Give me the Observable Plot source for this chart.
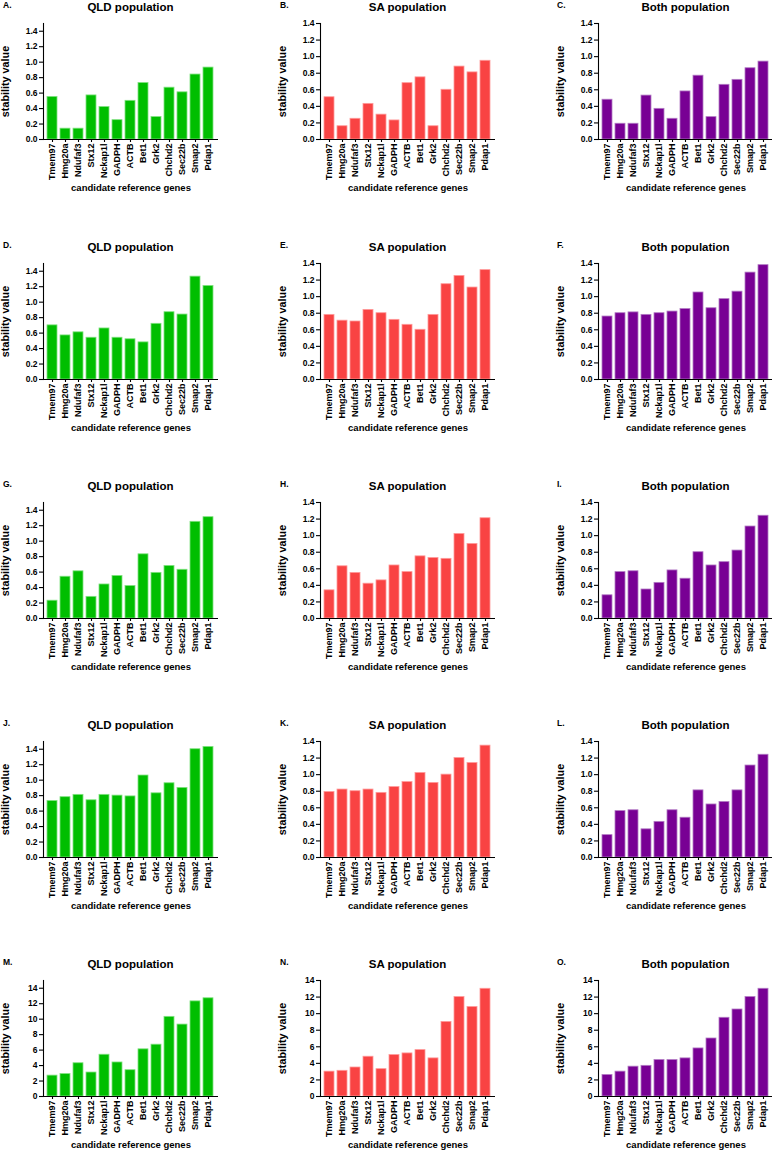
<!DOCTYPE html>
<html><head><meta charset="utf-8">
<script src="https://cdn.jsdelivr.net/npm/d3@7"></script>
<script src="https://cdn.jsdelivr.net/npm/@observablehq/plot@0.6"></script>
<style>
body{margin:0;background:#fff;overflow:hidden;}
#fig{position:relative;width:772px;height:1150px;overflow:hidden;font-family:"Liberation Sans",Arial,sans-serif;font-weight:bold;color:#000;}
.panel{position:absolute;width:260px;height:205px;}
.panel svg{max-width:none !important;}
.title{position:absolute;font-size:11.5px;line-height:12px;font-weight:bold;white-space:nowrap;transform:translateX(-50%);}
.letter{position:absolute;font-size:8.5px;line-height:9px;font-weight:bold;}
svg g[aria-label="y-axis label"] text{font-size:10.8px;}
svg g[aria-label="x-axis label"] text{font-size:9.5px;}
svg g[aria-label="x-axis tick label"] text{font-size:9px;}
svg g[aria-label="y-axis tick label"] text{font-size:8.5px;}
</style></head><body><div id="fig"></div>
<script>
const genes = ["Tmem97","Hmg20a","Ndufaf3","Stx12","Nckap1l","GADPH","ACTB","Bet1","Grk2","Chchd2","Sec22b","Smap2","Pdap1"];
const letters = ["A.","B.","C.","D.","E.","F.","G.","H.","I.","J.","K.","L.","M.","N.","O."];
const populations = ["QLD population","SA population","Both population"];
const ticksSmall = [0,0.2,0.4,0.6,0.8,1.0,1.2,1.4];
const ticksLarge = [0,2,4,6,8,10,12,14];

const valuesA = [0.55,0.14,0.14,0.57,0.42,0.25,0.50,0.73,0.29,0.67,0.61,0.84,0.93];
const valuesB = [0.51,0.16,0.25,0.43,0.30,0.23,0.68,0.75,0.16,0.60,0.88,0.81,0.95];
const valuesC = [0.48,0.19,0.19,0.53,0.37,0.25,0.58,0.77,0.27,0.66,0.72,0.86,0.94];
const valuesD = [0.70,0.57,0.61,0.54,0.66,0.54,0.52,0.48,0.72,0.87,0.84,1.33,1.21];
const valuesE = [0.78,0.71,0.70,0.84,0.80,0.72,0.66,0.60,0.78,1.15,1.25,1.11,1.32];
const valuesF = [0.76,0.80,0.81,0.78,0.80,0.82,0.85,1.05,0.86,0.97,1.06,1.29,1.38];
const valuesG = [0.23,0.54,0.61,0.28,0.44,0.55,0.42,0.83,0.59,0.68,0.63,1.25,1.31];
const valuesH = [0.34,0.63,0.55,0.42,0.46,0.64,0.56,0.75,0.73,0.72,1.02,0.90,1.21];
const valuesI = [0.28,0.56,0.57,0.35,0.43,0.58,0.48,0.80,0.64,0.68,0.82,1.11,1.24];
const valuesJ = [0.73,0.78,0.81,0.74,0.81,0.80,0.79,1.06,0.83,0.96,0.90,1.40,1.43];
const valuesK = [0.79,0.82,0.80,0.82,0.78,0.85,0.91,1.02,0.90,1.00,1.20,1.14,1.35];
const valuesL = [0.27,0.56,0.57,0.34,0.43,0.57,0.48,0.81,0.64,0.67,0.81,1.11,1.24];
const valuesM = [2.7,2.9,4.3,3.1,5.4,4.4,3.4,6.1,6.7,10.3,9.3,12.3,12.7];
const valuesN = [3.0,3.1,3.5,4.8,3.3,5.0,5.2,5.6,4.6,9.0,12.0,10.8,13.0];
const valuesO = [2.6,3.0,3.6,3.7,4.4,4.4,4.6,5.8,7.0,9.5,10.5,12.0,13.0];

const panelValues = [valuesA,valuesB,valuesC,valuesD,valuesE,valuesF,valuesG,valuesH,valuesI,valuesJ,valuesK,valuesL,valuesM,valuesN,valuesO];
const fills = ["#00BE00","#F94343","#780094"];
const strokes = ["#7FE27F","#FF9A9A","#B27AC4"];

const fig = document.getElementById("fig");
const frameLefts = [43, 320, 598];
const frameTops = [23, 263, 502, 741, 980];
const letterLefts = [3, 280, 557];
const W = 260, H = 205, mL = 60, mR = 25, mT = 30, mB = 59;
const frameW = W - mL - mR;

panelValues.forEach((vals, k) => {
  const row = Math.floor(k / 3), col = k % 3;
  const large = row === 4;
  const yMax = large ? (col === 0 ? 15 : 14) : (col === 0 ? 1.5 : 1.4);
  const data = genes.map((g, i) => ({gene: g, value: vals[i]}));
  const chart = Plot.plot({
    width: W, height: H,
    marginLeft: mL, marginRight: mR, marginTop: mT, marginBottom: mB,
    style: {fontFamily: "'Liberation Sans', Arial, sans-serif", fontWeight: "bold", fontSize: "8.5px", color: "#000", background: "transparent", overflow: "visible", maxWidth: "none"},
    x: {domain: genes, paddingInner: 0.2, paddingOuter: 0.28},
    y: {domain: [0, yMax]},
    marks: [
      Plot.barY(data, {x: "gene", y: "value", fill: fills[col], stroke: strokes[col], strokeWidth: 0.8}),
      Plot.frame({anchor: "left", stroke: "#000", strokeWidth: 1.1}),
      Plot.ruleY([0], {stroke: "#000", strokeWidth: 1.1}),
      Plot.axisY({ticks: large ? ticksLarge : ticksSmall, tickFormat: large ? d3.format("d") : d3.format(".1f"), tickSize: 4, tickPadding: 2, strokeWidth: 1.1,
        label: "stability value", labelAnchor: "center", labelArrow: "none", labelOffset: 42}),
      Plot.axisX({tickRotate: -90, tickSize: 3, tickPadding: 1, strokeWidth: 1.1,
        label: "candidate reference genes", labelAnchor: "center", labelArrow: "none", labelOffset: 51})
    ]
  });
  chart.style.maxWidth = "none";
  const div = document.createElement("div");
  div.className = "panel";
  div.style.left = (frameLefts[col] - mL) + "px";
  div.style.top = (frameTops[row] - mT) + "px";
  div.appendChild(chart);
  fig.appendChild(div);

  const t = document.createElement("div");
  t.className = "title";
  t.textContent = populations[col];
  t.style.left = (frameLefts[col] + frameW / 2) + "px";
  t.style.top = (frameTops[row] - 22) + "px";
  fig.appendChild(t);

  const l = document.createElement("div");
  l.className = "letter";
  l.textContent = letters[k];
  l.style.left = letterLefts[col] + "px";
  l.style.top = (frameTops[row] - 22) + "px";
  fig.appendChild(l);
});
</script></body></html>
